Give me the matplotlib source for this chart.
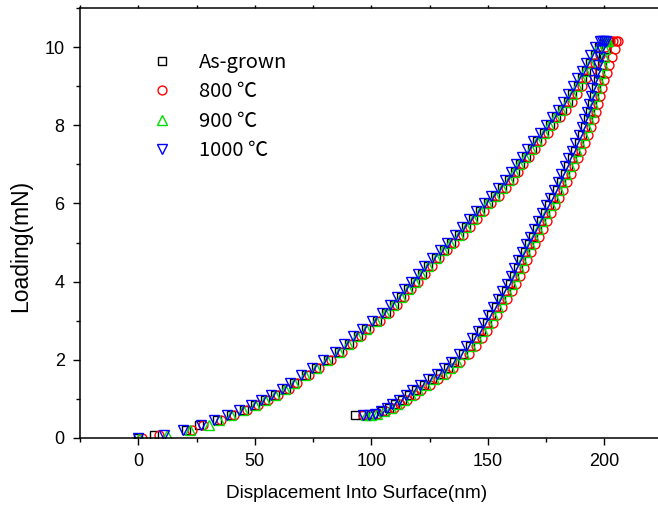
import numpy as np
import matplotlib
matplotlib.use("Agg")
import matplotlib.pyplot as plt
from matplotlib.ticker import MultipleLocator

# ---- data ----
load_force = [0, 0.08, 0.2, 0.32, 0.45, 0.58, 0.71, 0.84, 0.97, 1.1, 1.25, 1.4, 1.6, 1.8, 2.0,
              2.2, 2.4, 2.6, 2.8, 3.0, 3.2, 3.4, 3.6, 3.8, 4.0, 4.2, 4.4, 4.6, 4.8, 5.0,
              5.2, 5.4, 5.6, 5.8, 6.0, 6.2, 6.4, 6.6, 6.8, 7.0, 7.2, 7.4, 7.6, 7.8, 8.0,
              8.2, 8.4, 8.6, 8.8, 9.0, 9.2, 9.4, 9.6, 9.8, 10.0, 10.15, 10.15, 10.15, 10.15]

unload_force = [9.95, 9.75, 9.55, 9.35, 9.15, 8.95, 8.75, 8.55, 8.35, 8.15, 7.95, 7.75, 7.55,
                7.35, 7.15, 6.95, 6.75, 6.55, 6.35, 6.15, 5.95, 5.75, 5.55, 5.35, 5.15, 4.95,
                4.75, 4.55, 4.35, 4.15, 3.95, 3.75, 3.55, 3.35, 3.15, 2.95, 2.75, 2.55, 2.35,
                2.15, 1.95, 1.8, 1.65, 1.5, 1.36, 1.22, 1.1, 0.98, 0.87, 0.77, 0.68, 0.62,
                0.6, 0.58]

asgrown_load = [0, 6.9, 20.5, 26, 34, 40, 45.2, 50.3, 54.5, 58.8, 63.3, 67, 71.8, 76.4, 81.4,
                86.3, 90.3, 94.2, 97.8, 102.3, 106.3, 109.8, 112.9, 115.9, 118.8, 121.8, 124.5,
                127.8, 131.3, 134.3, 137.8, 140.8, 143.8, 146.8, 150.1, 153.3, 156.3, 159.3,
                161.6, 163.8, 166.3, 168.8, 171.3, 174.3, 176.6, 179.3, 181.8, 184.3, 186.3,
                188.6, 190.3, 192.1, 194, 195.9, 197.8, 199.8, 200.8, 201.6, 202.2]
asgrown_unload = [200.8, 199.9, 199.0, 198.1, 197.3, 196.4, 195.6, 194.8, 193.9, 193.0, 191.9,
                  190.6, 189.1, 187.6, 186.1, 184.6, 183.1, 181.5, 179.9, 178.2, 176.5, 174.7,
                  172.9, 171.2, 169.5, 167.8, 166.1, 164.4, 162.9, 161.4, 159.7, 157.8, 155.7,
                  153.7, 151.6, 149.6, 147.3, 144.9, 142.3, 139.3, 135.7, 132.8, 129.7, 126.0,
                  122.5, 119.0, 116.2, 113.2, 110.3, 107.6, 104.6, 100.8, 96.5, 93.2]

c800_load = [1.7, 9, 23, 28, 35.5, 41.2, 46.5, 51.5, 55.8, 60, 64.5, 68.2, 73.1, 77.6, 82.6,
             87.6, 91.6, 95.4, 99.1, 103.6, 107.6, 111.1, 114.2, 117.2, 120.2, 123.2, 125.9,
             129.2, 132.7, 135.7, 139.2, 142.2, 145.2, 148.2, 151.4, 154.7, 157.7, 160.7, 163,
             165.3, 167.8, 170.3, 172.8, 175.8, 178.2, 180.9, 183.5, 186, 188.1, 190.5, 192.3,
             194.2, 196.2, 198.2, 200.3, 202.5, 203.8, 204.9, 205.7]
c800_unload = [204.5, 203.2, 202.0, 201.0, 200.1, 199.2, 198.3, 197.4, 196.5, 195.5, 194.4,
               193.1, 191.6, 190.1, 188.6, 187.1, 185.6, 184.0, 182.4, 180.7, 179.0, 177.2,
               175.4, 173.7, 172.0, 170.3, 168.6, 166.9, 165.4, 163.9, 162.2, 160.3, 158.2,
               156.2, 154.1, 152.1, 149.8, 147.4, 144.8, 141.8, 138.2, 135.3, 132.2, 128.5,
               125.0, 121.5, 118.6, 115.4, 112.3, 109.6, 106.2, 102.5, 99.0, 96.5]

c900_load = [0.3, 12.4, 22, 30.5, 34.5, 39.8, 45, 50, 54.3, 58.6, 63, 66.7, 71.6, 76.2, 81,
             86, 90, 94, 97.6, 102, 106, 109.5, 112.6, 115.6, 118.6, 121.5, 124.3, 127.6, 131,
             134, 137.5, 140.6, 143.6, 146.6, 149.8, 153, 156, 159, 161.3, 163.6, 166, 168.6,
             171, 174, 176.4, 179, 181.6, 184, 186, 188.3, 190, 191.8, 193.7, 195.6, 197.5,
             199.3, 200.2, 201, 201.6]
c900_unload = [200.5, 200.0, 199.3, 198.5, 197.7, 196.9, 196.1, 195.3, 194.4, 193.5, 192.4,
               191.1, 189.6, 188.1, 186.6, 185.1, 183.6, 182.0, 180.4, 178.7, 177.0, 175.2,
               173.4, 171.7, 170.0, 168.3, 166.6, 164.9, 163.4, 161.9, 160.2, 158.3, 156.3,
               154.3, 152.2, 150.2, 147.9, 145.6, 143.0, 140.0, 136.6, 133.7, 130.6, 127.0,
               123.5, 120.0, 117.2, 114.2, 111.2, 108.6, 105.6, 102.5, 99.8, 97.8]

c1000_load = [0, 11, 19, 27, 32.5, 38, 43.3, 48.5, 52.5, 57, 61.5, 65, 70, 74.5, 79.5, 84.5,
              88.5, 92.3, 96, 100.5, 104.5, 108, 111, 114, 117, 120, 122.7, 126, 129.5, 132.5,
              136, 139, 142, 145, 148.3, 151.5, 154.5, 157.5, 159.8, 162, 164.5, 167, 169.5,
              172.5, 174.8, 177.5, 180, 182.5, 184.5, 186.8, 188.5, 190.3, 192.2, 194, 196,
              198, 199, 200, 200.8]
c1000_unload = [198.8, 198.1, 197.3, 196.5, 195.7, 194.9, 194.1, 193.3, 192.4, 191.5, 190.4,
                189.1, 187.6, 186.1, 184.6, 183.1, 181.6, 180.0, 178.4, 176.7, 175.0, 173.2,
                171.4, 169.7, 168.0, 166.3, 164.6, 162.9, 161.4, 159.9, 158.2, 156.3, 154.2,
                152.2, 150.1, 148.1, 145.8, 143.4, 140.8, 137.8, 134.2, 131.3, 128.2, 124.5,
                121.0, 117.5, 114.8, 111.8, 109.0, 106.6, 104.0, 101.5, 99.0, 96.5]

labels = ["As-grown", "800 \u2103", "900 \u2103", "1000 \u2103"]
x_ticks = [0, 50, 100, 150, 200]
y_ticks = [0, 2, 4, 6, 8, 10]

# ---- figure ----
plt.rcParams["font.family"] = ["Liberation Sans", "DejaVu Sans"]
fig = plt.figure(figsize=(6.58, 5.12), dpi=100)
ax = fig.add_axes([80 / 658, 74 / 512, 582.5 / 658, 430 / 512])

force_all = np.concatenate([load_force, unload_force])
series = [
    (asgrown_load, asgrown_unload, "s", "black", 5.2),
    (c800_load, c800_unload, "o", "red", 6.4),
    (c900_load, c900_unload, "^", "#00E000", 7.0),
    (c1000_load, c1000_unload, "v", "blue", 7.0),
]
for (ld, ud, mk, col, ms), lab in zip(series, labels):
    disp = np.concatenate([ld, ud])
    ax.plot(disp, force_all, linestyle="none", marker=mk, markersize=ms,
            markerfacecolor="none", markeredgecolor=col, markeredgewidth=1.0, label=lab)

ax.set_xlim(-25, 225)
ax.set_ylim(0, 11)
ax.set_xticks(x_ticks)
ax.set_yticks(y_ticks)
ax.xaxis.set_minor_locator(MultipleLocator(25))
ax.yaxis.set_minor_locator(MultipleLocator(1))

for s in ["left", "bottom", "top"]:
    ax.spines[s].set_linewidth(1.1)
ax.spines["right"].set_visible(False)

ax.tick_params(axis="both", which="major", direction="out", length=5, width=1.0,
               labelsize=13, pad=6)
ax.tick_params(axis="both", which="minor", direction="out", length=3, width=1.0)
ax.tick_params(axis="x", which="both", top=True)
ax.tick_params(axis="x", which="both", top=True, bottom=True)
for t in ax.xaxis.get_major_ticks() + ax.xaxis.get_minor_ticks():
    t.tick2line.set_markersize(2)

ax.set_xlabel("Displacement Into Surface(nm)", fontsize=13.7)
ax.set_ylabel("Loading(mN)", fontsize=16.5)
ax.xaxis.set_label_coords(0.4755, -0.109)
ax.yaxis.set_label_coords(-0.083, 0.447)

leg = ax.legend(loc="upper left", bbox_to_anchor=(152 / 658, 1 - 52 / 512),
                bbox_transform=fig.transFigure, frameon=False, handlelength=1.0,
                handletextpad=1.35, labelspacing=0.42, borderpad=0, borderaxespad=0,
                prop={"family": ["Noto Sans CJK SC", "DejaVu Sans"], "size": 14.5})

fig.savefig("out.png", dpi=100)
